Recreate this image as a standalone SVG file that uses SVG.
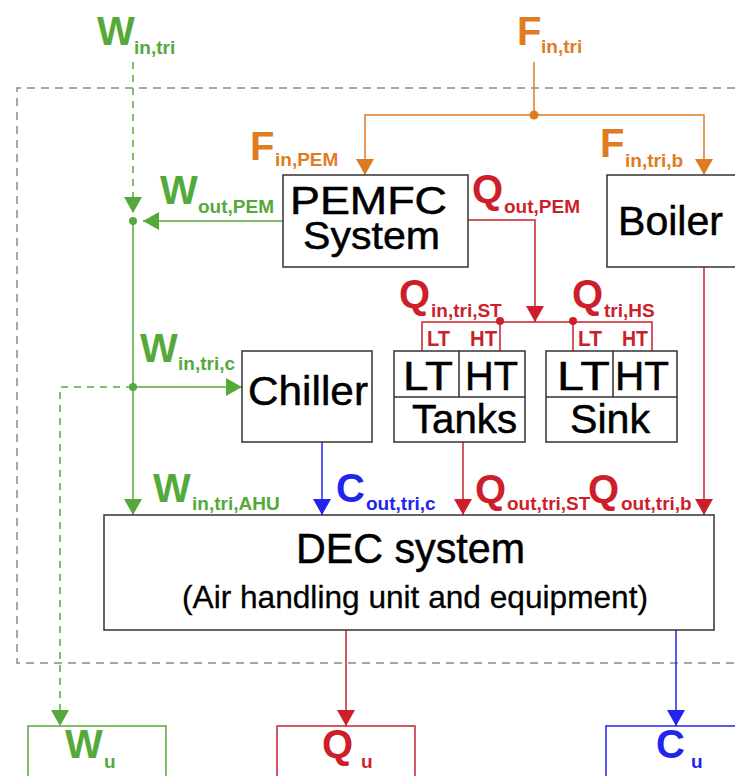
<svg xmlns="http://www.w3.org/2000/svg" width="735" height="776" viewBox="0 0 735 776">
<style>
.box{fill:#fff;stroke:#333;stroke-width:1.5}
.bt{font-family:"Liberation Sans",Arial,sans-serif;fill:#000;stroke:#000;stroke-width:0.5}
.lb{font-family:"Liberation Sans",Arial,sans-serif;font-weight:bold}
.sub{font-size:19px}
.g{fill:#55a93a}.o{fill:#df7c23}.r{fill:#cc1f2b}.b{fill:#2323ee}
.cg{stroke:#55a93a;stroke-width:1.5;fill:none}
.co{stroke:#df7c23;stroke-width:1.5;fill:none}
.cr{stroke:#cc1f2b;stroke-width:1.5;fill:none}
.cb{stroke:#2323ee;stroke-width:1.5;fill:none}
.dash{stroke-dasharray:7 6}
</style>
<defs>
<marker id="ag" markerUnits="userSpaceOnUse" markerWidth="18" markerHeight="18" refX="16" refY="9" orient="auto"><path d="M0,0 L16,9 L0,18 z" fill="#55a93a"/></marker>
<marker id="ao" markerUnits="userSpaceOnUse" markerWidth="18" markerHeight="18" refX="16" refY="9" orient="auto"><path d="M0,0 L16,9 L0,18 z" fill="#df7c23"/></marker>
<marker id="ar" markerUnits="userSpaceOnUse" markerWidth="18" markerHeight="18" refX="16" refY="9" orient="auto"><path d="M0,0 L16,9 L0,18 z" fill="#cc1f2b"/></marker>
<marker id="ab" markerUnits="userSpaceOnUse" markerWidth="18" markerHeight="18" refX="16" refY="9" orient="auto"><path d="M0,0 L16,9 L0,18 z" fill="#2323ee"/></marker>
</defs>
<rect width="735" height="776" fill="#fff"/>
<path d="M735,88 H17 V663 H735" fill="none" stroke="#8a8a8a" stroke-width="1.5" stroke-dasharray="8 6"/>

<g id="connectors">
  <path class="cg dash" d="M133,62 V213" marker-end="url(#ag)"/>
  <path class="cg" d="M283,221 H143" marker-end="url(#ag)"/>
  <path class="cg" d="M133,221 V515" marker-end="url(#ag)"/>
  <path class="cg" d="M133,387 H242" marker-end="url(#ag)"/>
  <path class="cg dash" d="M133,387 H60 V726" marker-end="url(#ag)"/>
  <circle cx="133" cy="221" r="4" fill="#55a93a"/>
  <circle cx="133" cy="387" r="4" fill="#55a93a"/>
  <path class="co" d="M534,62 V115"/>
  <path class="co" d="M534,115 H365 V175" marker-end="url(#ao)"/>
  <path class="co" d="M534,115 H704 V175" marker-end="url(#ao)"/>
  <circle cx="534" cy="115" r="4.5" fill="#df7c23"/>
  <path class="cr" d="M468,220 H535 V322" marker-end="url(#ar)"/>
  <path class="cr" d="M422,351 V322 H652 V351"/>
  <path class="cr" d="M500,322 V351 M573,322 V351"/>
  <circle cx="500" cy="321" r="4" fill="#cc1f2b"/>
  <circle cx="573" cy="321" r="4" fill="#cc1f2b"/>
  <path class="cr" d="M463,442 V515" marker-end="url(#ar)"/>
  <path class="cr" d="M704,267 V515" marker-end="url(#ar)"/>
  <path class="cb" d="M322,442 V515" marker-end="url(#ab)"/>
  <path class="cr" d="M346,630 V726" marker-end="url(#ar)"/>
  <path class="cb" d="M676,630 V726" marker-end="url(#ab)"/>
</g>

<g id="labels">
  <text class="lb g" font-size="40" x="97" y="45">W<tspan class="sub" x="134" y="54">in,tri</tspan></text>
  <text class="lb o" font-size="40" x="517" y="45">F<tspan class="sub" x="541" y="53">in,tri</tspan></text>
  <text class="lb o" font-size="40" x="250" y="160">F<tspan class="sub" x="275" y="166">in,PEM</tspan></text>
  <text class="lb o" font-size="40" x="600" y="157">F<tspan class="sub" x="625" y="167">in,tri,b</tspan></text>
  <text class="lb g" font-size="40" x="160" y="204">W<tspan class="sub" x="198" y="213">out,PEM</tspan></text>
  <text class="lb r" font-size="40" x="472" y="203">Q<tspan class="sub" x="504" y="213">out,PEM</tspan></text>
  <text class="lb r" font-size="40" x="399" y="308">Q<tspan class="sub" x="431" y="317">in,tri,ST</tspan></text>
  <text class="lb r" font-size="40" x="572" y="308">Q<tspan class="sub" x="604" y="317">tri,HS</tspan></text>
  <text class="lb g" font-size="40" x="140" y="362">W<tspan class="sub" x="178" y="370">in,tri,c</tspan></text>
  <text class="lb g" font-size="40" x="153" y="502">W<tspan class="sub" x="192" y="510">in,tri,AHU</tspan></text>
  <text class="lb b" font-size="40" x="336" y="502">C<tspan class="sub" x="366" y="510">out,tri,c</tspan></text>
  <text class="lb r" font-size="40" x="475" y="503">Q<tspan class="sub" x="507" y="510">out,tri,ST</tspan></text>
  <text class="lb r" font-size="40" x="588" y="503">Q<tspan class="sub" x="621" y="510">out,tri,b</tspan></text>
</g>

<g id="pemfc">
  <rect class="box" x="283" y="175" width="185" height="92"/>
  <text class="bt" font-size="38" x="290" y="214" textLength="157" lengthAdjust="spacingAndGlyphs">PEMFC</text>
  <text class="bt" font-size="38" x="303" y="249" textLength="137" lengthAdjust="spacingAndGlyphs">System</text>
</g>
<g id="boiler">
  <rect class="box" x="607" y="175" width="140" height="92"/>
  <text class="bt" font-size="41" x="618" y="235" textLength="105" lengthAdjust="spacingAndGlyphs">Boiler</text>
</g>
<g id="chiller">
  <rect class="box" x="242" y="351" width="130" height="91"/>
  <text class="bt" font-size="41" x="248" y="405" textLength="120" lengthAdjust="spacingAndGlyphs">Chiller</text>
</g>
<g id="tanks">
  <rect class="box" x="394" y="351" width="131" height="91"/>
  <path d="M394,397 H525 M459,351 V397" stroke="#333" stroke-width="1.5"/>
  <text class="bt" font-size="41" x="403" y="390" textLength="50" lengthAdjust="spacingAndGlyphs">LT</text>
  <text class="bt" font-size="41" x="465" y="390" textLength="53" lengthAdjust="spacingAndGlyphs">HT</text>
  <text class="bt" font-size="40" x="412" y="433" textLength="105" lengthAdjust="spacingAndGlyphs">Tanks</text>
  <text class="lb r" font-size="22" font-weight="normal" x="427" y="346" textLength="23" lengthAdjust="spacingAndGlyphs">LT</text>
  <text class="lb r" font-size="22" font-weight="normal" x="470" y="346" textLength="27" lengthAdjust="spacingAndGlyphs">HT</text>
</g>
<g id="sink">
  <rect class="box" x="546" y="351" width="131" height="91"/>
  <path d="M546,397 H677 M613,351 V397" stroke="#333" stroke-width="1.5"/>
  <text class="bt" font-size="41" x="557" y="390" textLength="53" lengthAdjust="spacingAndGlyphs">LT</text>
  <text class="bt" font-size="41" x="615" y="390" textLength="54" lengthAdjust="spacingAndGlyphs">HT</text>
  <text class="bt" font-size="40" x="570" y="433" textLength="80" lengthAdjust="spacingAndGlyphs">Sink</text>
  <text class="lb r" font-size="22" font-weight="normal" x="578" y="346" textLength="24" lengthAdjust="spacingAndGlyphs">LT</text>
  <text class="lb r" font-size="22" font-weight="normal" x="622" y="346" textLength="26" lengthAdjust="spacingAndGlyphs">HT</text>
</g>
<g id="dec">
  <rect class="box" x="104" y="515" width="610" height="115"/>
  <text class="bt" font-size="42" x="296" y="563" textLength="229" lengthAdjust="spacingAndGlyphs">DEC system</text>
  <text class="bt" font-size="32" x="182" y="608" textLength="466" lengthAdjust="spacingAndGlyphs" style="stroke-width:0.3">(Air handling unit and equipment)</text>
</g>
<g id="wu">
  <rect x="28" y="726" width="138" height="60" fill="#fff" stroke="#55a93a" stroke-width="1.5"/>
  <text class="lb g" font-size="40" x="65" y="758">W<tspan class="sub" x="104" y="768">u</tspan></text>
</g>
<g id="qu">
  <rect x="277" y="726" width="138" height="60" fill="#fff" stroke="#cc1f2b" stroke-width="1.5"/>
  <text class="lb r" font-size="40" x="322" y="758">Q<tspan class="sub" x="361" y="768">u</tspan></text>
</g>
<g id="cu">
  <rect x="606" y="726" width="140" height="60" fill="#fff" stroke="#2323ee" stroke-width="1.5"/>
  <text class="lb b" font-size="40" x="656" y="758">C<tspan class="sub" x="691" y="768">u</tspan></text>
</g>
</svg>
